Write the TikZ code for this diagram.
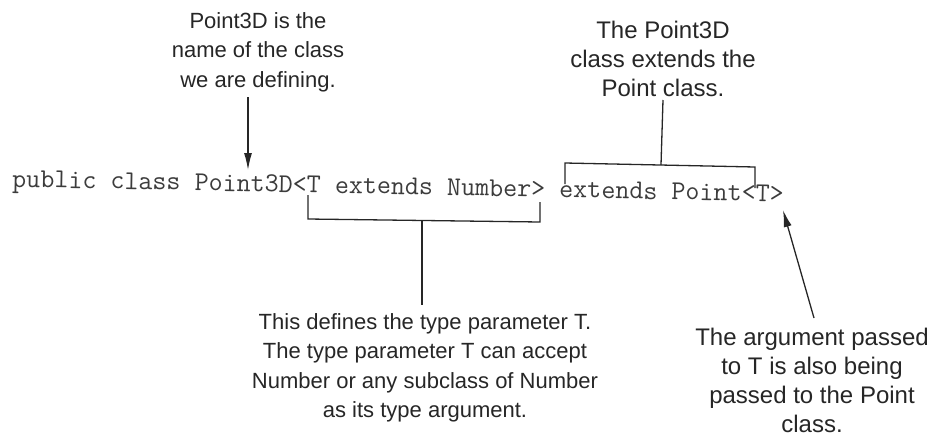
\documentclass[tikz,border=0pt]{standalone}
\usepackage{fontspec}
\setmainfont{Liberation Sans}
\usetikzlibrary{arrows.meta}
\definecolor{ink}{HTML}{262626}
\definecolor{codeink}{HTML}{3C3C3C}
\tikzset{
  note/.style={align=center, text=ink, inner sep=0pt,
    font=\fontsize{22}{29.5}\selectfont},
  bignote/.style={note, font=\fontsize{24}{29}\selectfont},
  codeline/.style={anchor=base west, inner sep=0pt, text=codeink,
    font=\ttfamily\fontsize{27.24}{30}\selectfont},
  link/.style={draw=ink, line width=1.3pt},
  pointer/.style={link, -{Latex[length=17pt,width=8pt]}},
}
\begin{document}
\begin{tikzpicture}[x=1pt,y=-1pt]
\useasboundingbox (0,0) rectangle (935,437);

% the declaration being explained (set with a slight downward slope)
\node[codeline, rotate=-1.09] (code) at (12,187) {public class Point3D<T extends Number> extends Point<T>};

% callouts
\node[note] (name) at (258,52) {Point3D is the\\name of the class\\we are defining.};
\node[bignote] (ext) at (663,59) {The Point3D\\class extends the\\Point class.};
\node[note] (param) at (425,368) {This defines the type parameter T.\\The type parameter T can accept\\Number or any subclass of Number\\as its type argument.};
\node[bignote] (arg) at (812,380) {The argument passed\\to T is also being\\passed to the Point\\class.};

% bracket corners and arrow ends
\coordinate (nameTip) at (248,170);
\coordinate (nameTail) at (248,97);
\coordinate (extL) at (565,184);
\coordinate (extLt) at (565,163);
\coordinate (extRt) at (755,167);
\coordinate (extR) at (755,188);
\coordinate (extMid) at (661,165);
\coordinate (parL) at (308,195);
\coordinate (parLb) at (308,219);
\coordinate (parRb) at (540,222);
\coordinate (parR) at (540,202);
\coordinate (parMid) at (422,220.5);
\coordinate (argTip) at (783,210);
\coordinate (argTail) at (814,318);

% name arrow
\draw[pointer] (nameTail) -- (nameTip);

% bracket over "extends Point"
\draw[link] (extL) -- (extLt) -- (extRt) -- (extR);
\draw[link] (extMid) -- (ext.south |- 0,100);

% bracket under "T extends Number>"
\draw[link] (parL) -- (parLb) -- (parRb) -- (parR);
\draw[link] (parMid) -- (parMid |- 0,305);

% pointer to the type argument
\draw[pointer] (argTail) -- (argTip);
\end{tikzpicture}
\end{document}
